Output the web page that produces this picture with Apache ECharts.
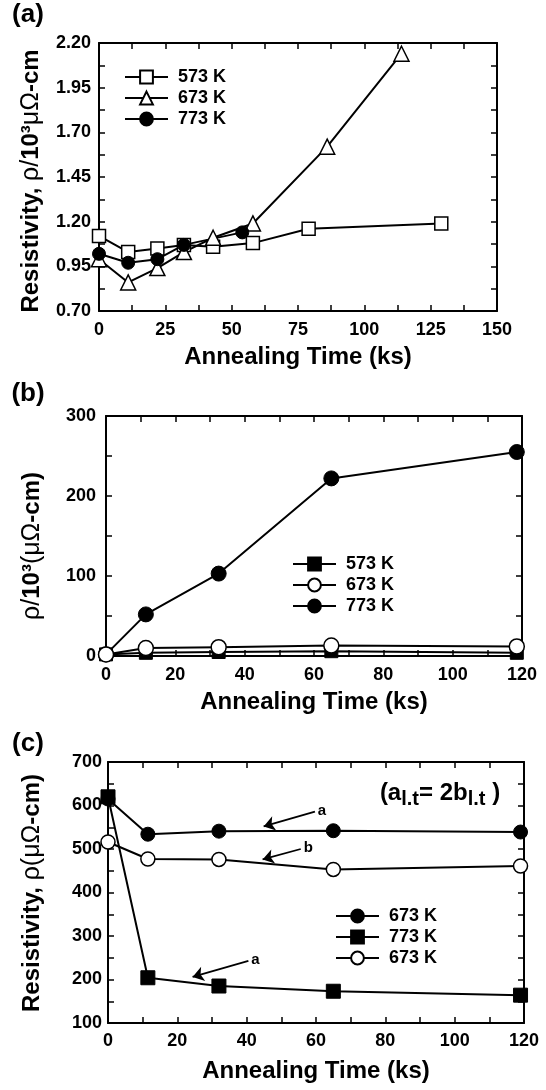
<!DOCTYPE html>
<html>
<head>
<meta charset="utf-8">
<title>Resistivity vs annealing time</title>
<script src="https://cdn.jsdelivr.net/npm/echarts@6/dist/echarts.min.js"></script>
<style>
  html, body { margin: 0; padding: 0; background: #fff; }
  #chart { width: 546px; height: 1090px; }
</style>
</head>
<body>
<div id="chart"></div>
<script>
// (a) resistivity, rho / 10^3 uOhm-cm
var timeA573 = [0, 11, 22, 32, 43, 58, 79, 129];
var rhoA573  = [1.12, 1.03, 1.05, 1.07, 1.06, 1.08, 1.16, 1.19];
var timeA673 = [0, 11, 22, 32, 43, 58, 86, 114];
var rhoA673  = [0.99, 0.86, 0.94, 1.03, 1.11, 1.19, 1.62, 2.14];
var timeA773 = [0, 11, 22, 32, 54];
var rhoA773  = [1.02, 0.97, 0.99, 1.07, 1.14];

// (b) rho / 10^3 (uOhm-cm)
var timeB    = [0, 11.5, 32.5, 65, 118.5];
var rhoB573  = [2, 4, 5, 6, 4];
var rhoB673  = [2, 10, 11, 13, 12];
var rhoB773  = [2, 52, 103, 222, 255];

// (c) resistivity, rho (uOhm-cm)
var timeC     = [0, 11.5, 32, 65, 119];
var rhoC673a  = [615, 534, 541, 542, 539];
var rhoC773a  = [620, 204, 185, 173, 164];
var rhoC673b  = [516, 477, 476, 453, 461];

// arrows in (c): [tail time, tail rho, tip time, tip rho, label]
var arrowsC673a = [[59.7, 586, 44.9, 552, 'a']];
var arrowsC673b = [[55.6, 500, 44.6, 476, 'b']];
var arrowsC773a = [[40.5, 243, 24.4, 206, 'a']];

var FONT = "'Liberation Sans', Arial, Helvetica, sans-serif";

function pairs(xs, ys) {
  return xs.map(function (x, i) { return [x, ys[i]]; });
}

var labelStyle = { color: '#000', fontFamily: FONT, fontWeight: 'bold', fontSize: 18 };

function axisBase(g, min, max, step) {
  return {
    gridIndex: g, type: 'value', min: min, max: max, interval: step,
    axisLine: { show: true, onZero: false, lineStyle: { color: '#000', width: 2 } },
    axisTick: { show: true, inside: true, length: 6, lineStyle: { color: '#000', width: 1.5 } },
    minorTick: { show: true, splitNumber: 2, length: 6, lineStyle: { color: '#000', width: 1.5 } },
    splitLine: { show: false },
    minorSplitLine: { show: false }
  };
}

function xPair(g, min, max, step, margin) {
  var b = axisBase(g, min, max, step);
  b.position = 'bottom';
  b.axisLabel = Object.assign({ margin: margin }, labelStyle);
  var t = axisBase(g, min, max, step);
  t.position = 'top';
  t.axisLabel = { show: false };
  return [b, t];
}

function yPair(g, min, max, step, margin, fmt) {
  var l = axisBase(g, min, max, step);
  l.position = 'left';
  l.axisLabel = Object.assign({ margin: margin, formatter: fmt }, labelStyle);
  var r = axisBase(g, min, max, step);
  r.position = 'right';
  r.axisLabel = { show: false };
  return [l, r];
}

function line(name, g, data, symbol, size, filled, arrows) {
  var s = {
    name: name, type: 'line',
    xAxisIndex: 2 * g, yAxisIndex: 2 * g,
    data: data,
    symbol: symbol, symbolSize: size, showSymbol: true,
    lineStyle: { color: '#000', width: 2 },
    itemStyle: filled ? { color: '#000', borderColor: '#000', borderWidth: 1 }
                      : { color: '#fff', borderColor: '#000', borderWidth: 1.5 },
    emphasis: { disabled: true },
    animation: false
  };
  if (arrows) {
    s.markLine = {
      silent: true, animation: false,
      symbol: ['none', 'arrow'], symbolSize: 11,
      lineStyle: { color: '#000', width: 1.8, type: 'solid' },
      label: { show: true, position: 'start', color: '#000', fontFamily: FONT, fontWeight: 'bold', fontSize: 15, distance: 3 },
      data: arrows.map(function (a) {
        return [{ coord: [a[0], a[1]], label: { formatter: a[4] } }, { coord: [a[2], a[3]] }];
      })
    };
  }
  return s;
}

function legend(names, left, top) {
  return {
    data: names, orient: 'vertical', left: left, top: top, padding: 0,
    itemWidth: 43, itemHeight: 16, itemGap: 3, selectedMode: false,
    formatter: function (n) { return n.split('|')[1]; },
    textStyle: { color: '#000', fontFamily: FONT, fontWeight: 'bold', fontSize: 18, padding: [0, 0, 0, 5] }
  };
}

function txt(x, y, text, rich, rot, font) {
  return {
    type: 'text', x: x, y: y, rotation: rot || 0, silent: true,
    style: {
      text: text, rich: rich || {}, fill: '#000',
      font: font || ('bold 24px ' + FONT),
      align: 'center', verticalAlign: 'middle',
      textAlign: 'center', textVerticalAlign: 'middle'
    }
  };
}

var titleRich = {
  b: { fontFamily: FONT, fontWeight: 'bold', fontSize: 24, color: '#000' },
  n: { fontFamily: FONT, fontWeight: 'normal', fontSize: 25, color: '#000' }
};
var noteRich = {
  m: { fontFamily: FONT, fontWeight: 'bold', fontSize: 24, color: '#000' },
  s: { fontFamily: FONT, fontWeight: 'bold', fontSize: 20, color: '#000', padding: [12, 0, 0, 0] }
};

var xa = xPair(0, 0, 150, 25, 10), xb = xPair(1, 0, 120, 20, 10), xc = xPair(2, 0, 120, 20, 9);
var ya = yPair(0, 0.70, 2.20, 0.25, 8, function (v) { return v.toFixed(2); });
var yb = yPair(1, 0, 300, 100, 10);
var yc = yPair(2, 100, 700, 100, 6);

var option = {
  backgroundColor: '#fff',
  animation: false,
  grid: [
    { left: 99, top: 43, width: 398, height: 268 },
    { left: 106, top: 416, width: 416, height: 240 },
    { left: 108, top: 762, width: 416, height: 261 }
  ],
  xAxis: xa.concat(xb, xc),
  yAxis: ya.concat(yb, yc),
  legend: [
    legend(['a|573 K', 'a|673 K', 'a|773 K'], 124, 68),
    legend(['b|573 K', 'b|673 K', 'b|773 K'], 292, 555),
    legend(['c1|673 K', 'c2|773 K', 'c3|673 K'], 335, 907)
  ],
  series: [
    line('a|573 K', 0, pairs(timeA573, rhoA573), 'rect', 13, false),
    line('a|673 K', 0, pairs(timeA673, rhoA673), 'triangle', 15, false),
    line('a|773 K', 0, pairs(timeA773, rhoA773), 'circle', 13, true),

    line('b|573 K', 1, pairs(timeB, rhoB573), 'rect', 13, true),
    line('b|773 K', 1, pairs(timeB, rhoB773), 'circle', 15, true),
    line('b|673 K', 1, pairs(timeB, rhoB673), 'circle', 15, false),

    line('c1|673 K', 2, pairs(timeC, rhoC673a), 'circle', 14, true, arrowsC673a),
    line('c3|673 K', 2, pairs(timeC, rhoC673b), 'circle', 14, false, arrowsC673b),
    line('c2|773 K', 2, pairs(timeC, rhoC773a), 'rect', 14, true, arrowsC773a)
  ],
  graphic: [
    txt(28, 15, '(a)', null, 0, 'bold 26px ' + FONT),
    txt(28, 394, '(b)', null, 0, 'bold 26px ' + FONT),
    txt(28, 744, '(c)', null, 0, 'bold 26px ' + FONT),

    txt(31, 181, '{b|Resistivity,} {n|ρ/}{b|10³}{n|μΩ}{b|-cm}', titleRich, Math.PI / 2),
    txt(32, 546, '{n|ρ/}{b|10³}{n|(μΩ}{b|-cm)}', titleRich, Math.PI / 2),
    txt(32, 893, '{b|Resistivity,} {n|ρ(μΩ}{b|-cm)}', titleRich, Math.PI / 2),

    txt(298, 357, 'Annealing Time (ks)'),
    txt(314, 702, 'Annealing Time (ks)'),
    txt(316, 1071, 'Annealing Time (ks)'),

    txt(440, 793, '{m|(a}{s|l.t}{m|= 2b}{s|l.t}{m| )}', noteRich, 0)
  ]
};

var chart = echarts.init(document.getElementById('chart'));
chart.setOption(option);
</script>
</body>
</html>
